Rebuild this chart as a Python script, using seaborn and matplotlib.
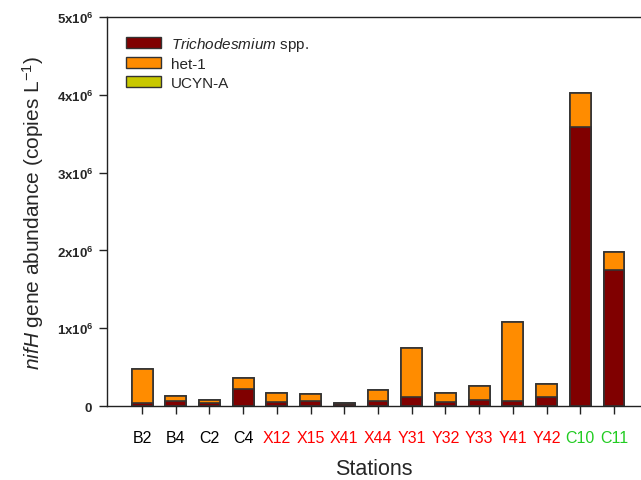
import numpy as np
import pandas as pd
import matplotlib
matplotlib.use("Agg")
import matplotlib.pyplot as plt
import seaborn as sns
from matplotlib.patches import Patch

# values (copies per litre)
stations = ["B2", "B4", "C2", "C4", "X12", "X15", "X41", "X44",
            "Y31", "Y32", "Y33", "Y41", "Y42", "C10", "C11"]
trichodesmium = [0.04e6, 0.068e6, 0.035e6, 0.222e6, 0.05e6, 0.06e6, 0.03e6, 0.064e6,
                 0.11e6, 0.05e6, 0.073e6, 0.06e6, 0.116e6, 3.59e6, 1.75e6]
het1 = [0.436e6, 0.057e6, 0.038e6, 0.138e6, 0.117e6, 0.098e6, 0.005e6, 0.136e6,
        0.635e6, 0.121e6, 0.187e6, 1.02e6, 0.163e6, 0.43e6, 0.23e6]
ucyn_a = [0.0] * 15
label_colors = ["black"] * 4 + ["red"] * 9 + ["#22cc22"] * 2
yticks = [0, 1e6, 2e6, 3e6, 4e6, 5e6]
ytick_labels = ["$\\mathbf{0}$", "$\\mathbf{1x10^{6}}$", "$\\mathbf{2x10^{6}}$",
                "$\\mathbf{3x10^{6}}$", "$\\mathbf{4x10^{6}}$", "$\\mathbf{5x10^{6}}$"]

col_trich = "#800000"
col_het = "#ff8c00"
col_ucyn = "#c8c800"

df = pd.DataFrame({"station": stations, "trich": trichodesmium,
                   "het": het1, "ucyn": ucyn_a})
df["lvl2"] = df["trich"] + df["het"]
df["lvl3"] = df["lvl2"] + df["ucyn"]

sns.set_style("white")
plt.rcParams["font.family"] = ["Liberation Sans", "DejaVu Sans"]
plt.rcParams["mathtext.fontset"] = "custom"
plt.rcParams["mathtext.rm"] = "Liberation Sans"
plt.rcParams["mathtext.it"] = "Liberation Sans:italic"
plt.rcParams["mathtext.bf"] = "Liberation Sans:bold"

fig = plt.figure(figsize=(6.41, 4.81), dpi=100)
ax = fig.add_axes([107 / 641, 74 / 481, 1 - 107 / 641, 389 / 481])

edge = dict(edgecolor="#333333", linewidth=1.2, width=0.62, saturation=1)
sns.barplot(data=df, x="station", y="lvl3", color=col_ucyn, ax=ax, **edge)
sns.barplot(data=df, x="station", y="lvl2", color=col_het, ax=ax, **edge)
sns.barplot(data=df, x="station", y="trich", color=col_trich, ax=ax, **edge)

ax.set_xlim(-1.04, 14.8)
ax.set_ylim(0, 5e6)
ax.set_yticks(yticks)
ax.set_yticklabels(ytick_labels, fontsize=9.5)
ax.tick_params(axis="both", direction="out", length=6, width=1, color="#222222",
               left=True, bottom=True)
ax.tick_params(axis="x", labelsize=11.5, pad=11)
ax.tick_params(axis="y", pad=4)
for lab, c in zip(ax.get_xticklabels(), label_colors):
    lab.set_color(c)

for side in ["left", "bottom", "top"]:
    ax.spines[side].set_color("#222222")
    ax.spines[side].set_linewidth(1.0)
ax.spines["right"].set_visible(False)

ax.set_xlabel("Stations", fontsize=15.5, labelpad=10)
ax.set_ylabel("$\\it{nifH}$ gene abundance (copies L$^{-1}$)", fontsize=15, labelpad=8)

handles = [Patch(facecolor=col_trich, edgecolor="#333333"),
           Patch(facecolor=col_het, edgecolor="#333333"),
           Patch(facecolor=col_ucyn, edgecolor="#333333")]
labels = ["$\\it{Trichodesmium}$ spp.", "het-1", "UCYN-A"]
ax.legend(handles, labels, loc="upper left", bbox_to_anchor=(0.036, 0.955),
          frameon=False, fontsize=11, handlelength=2.3, handleheight=0.75,
          handletextpad=0.6, labelspacing=0.3, borderpad=0, borderaxespad=0)

fig.savefig("out.png", dpi=100)
